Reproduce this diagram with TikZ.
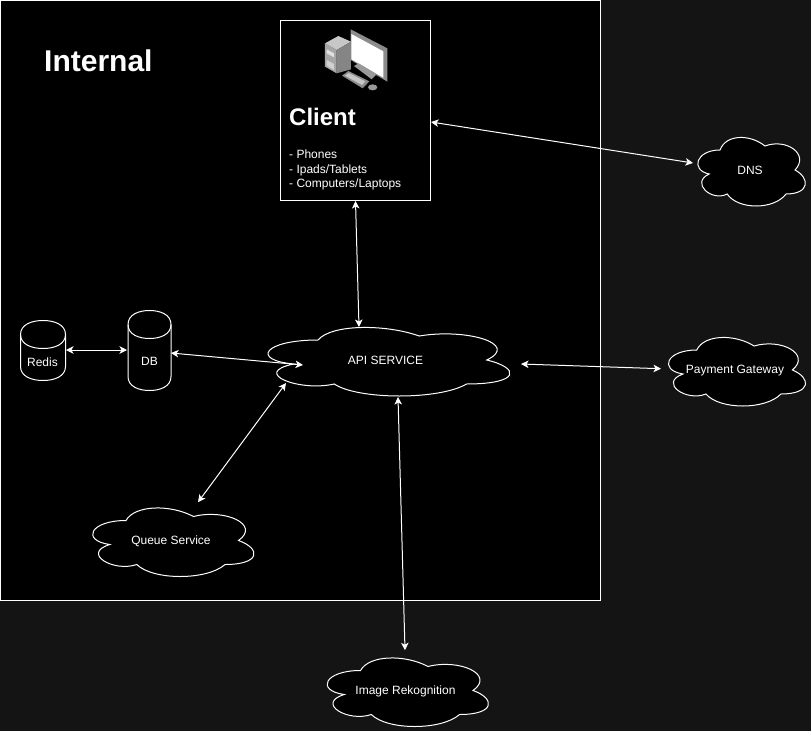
\documentclass[tikz,border=0pt]{standalone}
\usepackage{fontspec}
\setmainfont{Liberation Sans}
\usetikzlibrary{arrows.meta,calc}
\definecolor{pagebg}{HTML}{141414}
\newcommand{\cloudshape}[6]{%
  \begin{scope}[shift={(#2,#3)},x=#4pt,y=-#5pt]
    \draw[cloudline] (0.25,0.25) .. controls (0.05,0.25) and (0,0.5) .. (0.16,0.55)
      .. controls (0,0.66) and (0.18,0.9) .. (0.31,0.8)
      .. controls (0.4,1) and (0.7,1) .. (0.8,0.8)
      .. controls (1,0.8) and (1,0.6) .. (0.875,0.5)
      .. controls (1,0.3) and (0.8,0.1) .. (0.625,0.2)
      .. controls (0.5,0.05) and (0.3,0.05) .. (0.25,0.25) -- cycle;
  \end{scope}%
  \node[label text] (#1) at ({#2+#4/2},{#3+#5/2+0.7}) {#6};%
}
\newcommand{\cyl}[4]{% left, top, width, height
  \draw[cloudline] (#1,#2+14) .. controls (#1,#2+4) and (#1+#3*0.25,#2) .. (#1+#3/2,#2)
    .. controls (#1+#3*0.75,#2) and (#1+#3,#2+4) .. (#1+#3,#2+14)
    -- (#1+#3,#2+#4-14)
    .. controls (#1+#3,#2+#4-4) and (#1+#3*0.75,#2+#4) .. (#1+#3/2,#2+#4)
    .. controls (#1+#3*0.25,#2+#4) and (#1,#2+#4-4) .. (#1,#2+#4-14) -- cycle;
  \draw[white,line width=1pt] (#1,#2+14) .. controls (#1,#2+24) and (#1+#3*0.25,#2+28) .. (#1+#3/2,#2+28)
    .. controls (#1+#3*0.75,#2+28) and (#1+#3,#2+24) .. (#1+#3,#2+14);
}
\tikzset{
  cloudline/.style={draw=white,fill=black,line width=1pt},
  label text/.style={text=white,font=\fontsize{12}{14}\selectfont,inner sep=0pt},
  link/.style={draw=white,line width=1pt,{Stealth[length=7.5pt,width=7.5pt,inset=2pt]}-{Stealth[length=7.5pt,width=7.5pt,inset=2pt]}},
}
\begin{document}
\begin{tikzpicture}[x=1pt,y=-1pt]
\useasboundingbox (0,0) rectangle (811,731);
\fill[pagebg] (0,0) rectangle (811,731);
\draw[white,fill=black,line width=1pt] (0.5,0.5) rectangle (600.5,600.5);
\node[anchor=west,text=white,inner sep=0pt,font=\bfseries\fontsize{30}{34}\selectfont] (internal) at (44,61) {Internal};
% client box
\node[draw=white,fill=black,line width=1pt,minimum width=150pt,minimum height=180pt,inner sep=0pt] (client) at (355.5,110.5) {};
% computer icon
\begin{scope}[shift={(280,10)},x=0.3333pt,y=-0.3333pt]
  \fill[black!22] (135,100) -- (175,78) -- (213,95) -- (170,120) -- cycle;
  \fill[black!48] (170,120) -- (213,95) -- (213,178) -- (170,190) -- cycle;
  \fill[black!35] (135,100) -- (170,120) -- (170,190) -- (135,170) -- cycle;
  \fill[black!12] (140,118) -- (162,130) -- (162,142) -- (140,130) -- cycle;
  \fill[black!18] (140,150) -- (162,162) -- (162,180) -- (140,167) -- cycle;
  \fill[black!45] (212,58) -- (322,115) -- (322,215) -- (212,150) -- cycle;
  \fill[white] (214,72) -- (310,124) -- (310,203) -- (214,148) -- cycle;
  \fill[black!40] (222,168) -- (236,160) -- (290,193) -- (275,208) -- cycle;
  \fill[black!45] (186,197) -- (205,183) -- (268,214) -- (248,235) -- cycle;
  \fill[black!22] (195,197) -- (206,189) -- (256,214) -- (246,225) -- cycle;
  \fill[black!40] (278,232) ellipse[x radius=14,y radius=9];
\end{scope}
\node[anchor=west,text=white,inner sep=0pt,font=\bfseries\fontsize{24}{28}\selectfont] (clienttitle) at (289,117) {Client};
\node[anchor=west,text=white,inner sep=0pt,font=\fontsize{12}{14.5}\selectfont,align=left] (clientlist) at (289,170) {- Phones\\- Ipads/Tablets\\- Computers/Laptops};
% storage
\cyl{20.5}{320.5}{45}{60}
\node[label text] (redis) at (42.5,362.5) {Redis};
\cyl{128}{310.5}{43}{80}
\node[label text] (db) at (149.5,361.5) {DB};
% clouds
\cloudshape{api}{250.5}{320}{270}{80}{API SERVICE}
\cloudshape{dns}{690}{130}{120}{80}{DNS}
\cloudshape{pay}{658.5}{330}{153}{80}{Payment Gateway}
\cloudshape{queue}{81}{500.5}{180}{80}{Queue Service}
\cloudshape{image}{315.5}{650.5}{180}{80}{Image Rekognition}
% connectors
\draw[link] ($(client.east)+(0,11.5)$) -- ($(dns)+(-57,-7.7)$);
\draw[link] (client.south) -- ($(api)+(-26.5,-33.7)$);
\draw[link] ($(redis)+(23.5,-12.5)$) -- ($(db)+(-22.5,-11.5)$);
\draw[link] ($(db)+(21.5,-8.5)$) -- ($(api)+(-82.5,4.3)$);
\draw[link] ($(queue)+(27,-39)$) -- ($(api)+(-99.5,22.3)$);
\draw[link] ($(api)+(135.5,3.3)$) -- ($(pay)+(-74,-2)$);
\draw[link] ($(api)+(12.5,36.3)$) -- ($(image)+(-0.5,-41)$);
\end{tikzpicture}
\end{document}
